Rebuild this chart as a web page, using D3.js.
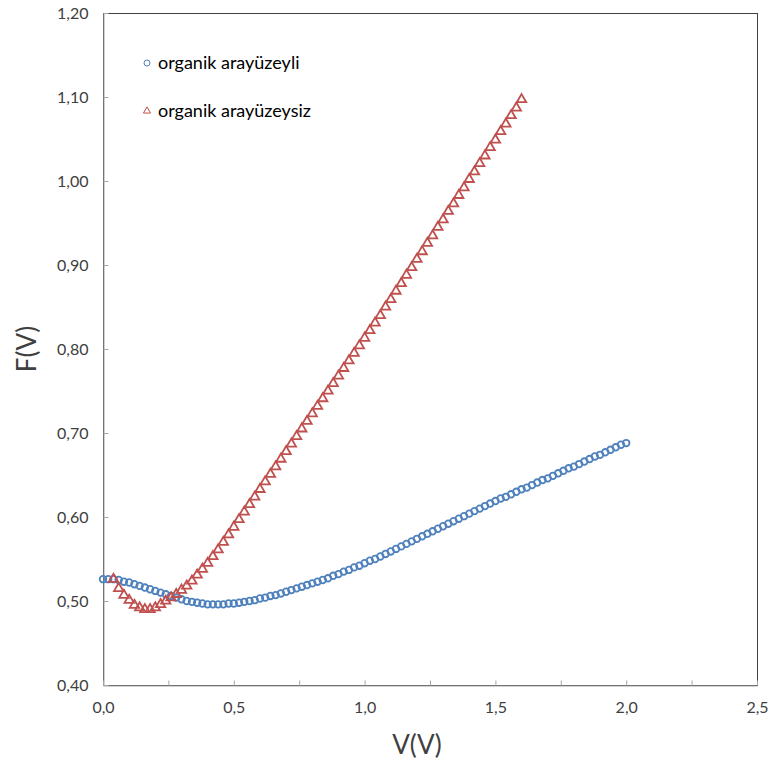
<!DOCTYPE html>
<html>
<head>
<meta charset="utf-8">
<script src="https://d3js.org/d3.v7.min.js"></script>
<style>
    body { margin: 0; background: #fff; }
    svg { display: block; font-family: Lato, "Open Sans", sans-serif; }
</style>
</head>
<body>
<div id="root"></div>
<script>
// series names (legend)
const seriesNames = ['organik arayüzeyli', 'organik arayüzeysiz'];

// V axis sampling (one marker every 0.02 V)
const vStep = 0.02;
const blueStartV = 0.00;
const redStartV = 0.04;

// F(V) values, organik arayüzeyli (circles), V = 0.00 ... 2.00
const blueF = [
    0.526, 0.526, 0.526, 0.525, 0.523, 0.522, 0.520, 0.518, 0.516, 0.514,
    0.512, 0.510, 0.508, 0.506, 0.504, 0.502, 0.500, 0.499, 0.498, 0.497,
    0.496, 0.496, 0.496, 0.496, 0.497, 0.497, 0.498, 0.499, 0.500, 0.501,
    0.503, 0.504, 0.506, 0.507, 0.509, 0.511, 0.513, 0.515, 0.517, 0.519,
    0.521, 0.523, 0.525, 0.527, 0.530, 0.532, 0.535, 0.537, 0.540, 0.542,
    0.545, 0.548, 0.550, 0.553, 0.556, 0.559, 0.562, 0.565, 0.568, 0.571,
    0.574, 0.577, 0.580, 0.583, 0.586, 0.589, 0.592, 0.595, 0.598, 0.601,
    0.604, 0.607, 0.610, 0.613, 0.616, 0.619, 0.622, 0.624, 0.627, 0.630,
    0.633, 0.635, 0.638, 0.641, 0.644, 0.646, 0.649, 0.652, 0.655, 0.658,
    0.660, 0.663, 0.666, 0.669, 0.672, 0.674, 0.677, 0.680, 0.683, 0.686,
    0.688
];

// F(V) values, organik arayüzeysiz (triangles), V = 0.04 ... 1.60
const redF = [
    0.526, 0.515, 0.507, 0.501, 0.495, 0.492, 0.490, 0.490, 0.492, 0.496,
    0.500, 0.504, 0.508, 0.513, 0.518, 0.524, 0.531, 0.538, 0.545, 0.553,
    0.561, 0.570, 0.579, 0.588, 0.597, 0.606, 0.615, 0.624, 0.633, 0.642,
    0.651, 0.660, 0.669, 0.678, 0.687, 0.696, 0.705, 0.714, 0.723, 0.732,
    0.741, 0.750, 0.759, 0.768, 0.777, 0.786, 0.795, 0.804, 0.813, 0.822,
    0.831, 0.840, 0.850, 0.859, 0.869, 0.878, 0.888, 0.897, 0.907, 0.916,
    0.926, 0.935, 0.945, 0.954, 0.964, 0.973, 0.983, 0.992, 1.002, 1.011,
    1.021, 1.030, 1.040, 1.049, 1.059, 1.068, 1.078, 1.087, 1.097
];

// axis ticks
const xTicks = [0, 0.25, 0.5, 0.75, 1, 1.25, 1.5, 1.75, 2, 2.25, 2.5];
const xLabels = [0, 0.5, 1, 1.5, 2, 2.5];
const yTicks = [0.4, 0.5, 0.6, 0.7, 0.8, 0.9, 1.0, 1.1, 1.2];

const width = 773;
const height = 761;
const margin = { top: 13, right: 16, bottom: 76, left: 103 };
const plotW = width - margin.left - margin.right;
const plotH = height - margin.top - margin.bottom;

const blueColor = '#4f81bd';
const redColor = '#c0504d';
const axisColor = '#a6a6a6';
const labelColor = '#404040';

const comma = fmt => v => d3.format(fmt)(v).replace('.', ',');

const svg = d3.select('#root').append('svg')
    .attr('width', width)
    .attr('height', height);

const x = d3.scaleLinear().domain([0, 2.5]).range([0, plotW]);
const y = d3.scaleLinear().domain([0.4, 1.2]).range([plotH, 0]);

const g = svg.append('g')
    .attr('transform', `translate(${margin.left},${margin.top})`);

// plot area frame (top / right)
g.append('rect')
    .attr('x', 0.5).attr('y', 0.5)
    .attr('width', plotW).attr('height', plotH)
    .attr('fill', 'none')
    .attr('stroke', '#404040')
    .attr('stroke-width', 1);

// y axis, ticks inward
const yAxis = g.append('g')
    .attr('transform', 'translate(0.5,0)')
    .call(d3.axisLeft(y).tickValues(yTicks).tickSize(-5).tickSizeOuter(0)
        .tickPadding(15).tickFormat(comma('.2f')));

// x axis, ticks inward
const xAxis = g.append('g')
    .attr('transform', `translate(0,${plotH + 0.5})`)
    .call(d3.axisBottom(x).tickValues(xTicks).tickSize(-5).tickSizeOuter(0)
        .tickPadding(16)
        .tickFormat(v => xLabels.includes(v) ? comma('.1f')(v) : ''));

[xAxis, yAxis].forEach(ax => {
    ax.select('.domain').attr('stroke', axisColor);
    ax.selectAll('.tick line').attr('stroke', axisColor);
    ax.selectAll('.tick text')
        .attr('fill', labelColor)
        .style('font-size', '16px')
        .style('font-family', 'Lato, "Open Sans", sans-serif');
});

// data points
const bluePts = blueF.map((f, i) => ({ v: blueStartV + i * vStep, f }));
const redPts = redF.map((f, i) => ({ v: redStartV + i * vStep, f }));

g.append('g').selectAll('circle')
    .data(bluePts)
    .join('circle')
    .attr('cx', d => x(d.v))
    .attr('cy', d => y(d.f))
    .attr('r', 3.3)
    .attr('fill', 'none')
    .attr('stroke', blueColor)
    .attr('stroke-width', 1.8);

const tri = d3.symbol().type(d3.symbolTriangle).size(38);

g.append('g').selectAll('path')
    .data(redPts)
    .join('path')
    .attr('d', tri)
    .attr('transform', d => `translate(${x(d.v)},${y(d.f)})`)
    .attr('fill', 'none')
    .attr('stroke', redColor)
    .attr('stroke-width', 1.8);

// legend
const legend = svg.append('g').attr('transform', 'translate(147,0)');
legend.append('circle')
    .attr('cx', 0).attr('cy', 63).attr('r', 3)
    .attr('fill', 'none').attr('stroke', blueColor).attr('stroke-width', 1);
legend.append('path')
    .attr('d', d3.symbol().type(d3.symbolTriangle).size(22))
    .attr('transform', 'translate(0,111)')
    .attr('fill', 'none').attr('stroke', redColor).attr('stroke-width', 1);
legend.selectAll('text')
    .data(seriesNames)
    .join('text')
    .attr('x', 11)
    .attr('y', (d, i) => 69 + i * 48)
    .attr('fill', '#000')
    .style('font-size', '18px')
    .text(d => d);

// axis titles
svg.append('text')
    .attr('x', margin.left + x(1.2))
    .attr('y', 754)
    .attr('text-anchor', 'middle')
    .attr('fill', labelColor)
    .style('font-size', '26px')
    .text('V(V)');

svg.append('text')
    .attr('transform', `translate(36,${margin.top + y(0.8)}) rotate(-90)`)
    .attr('text-anchor', 'middle')
    .attr('fill', labelColor)
    .style('font-size', '26px')
    .text('F(V)');
</script>
</body>
</html>
